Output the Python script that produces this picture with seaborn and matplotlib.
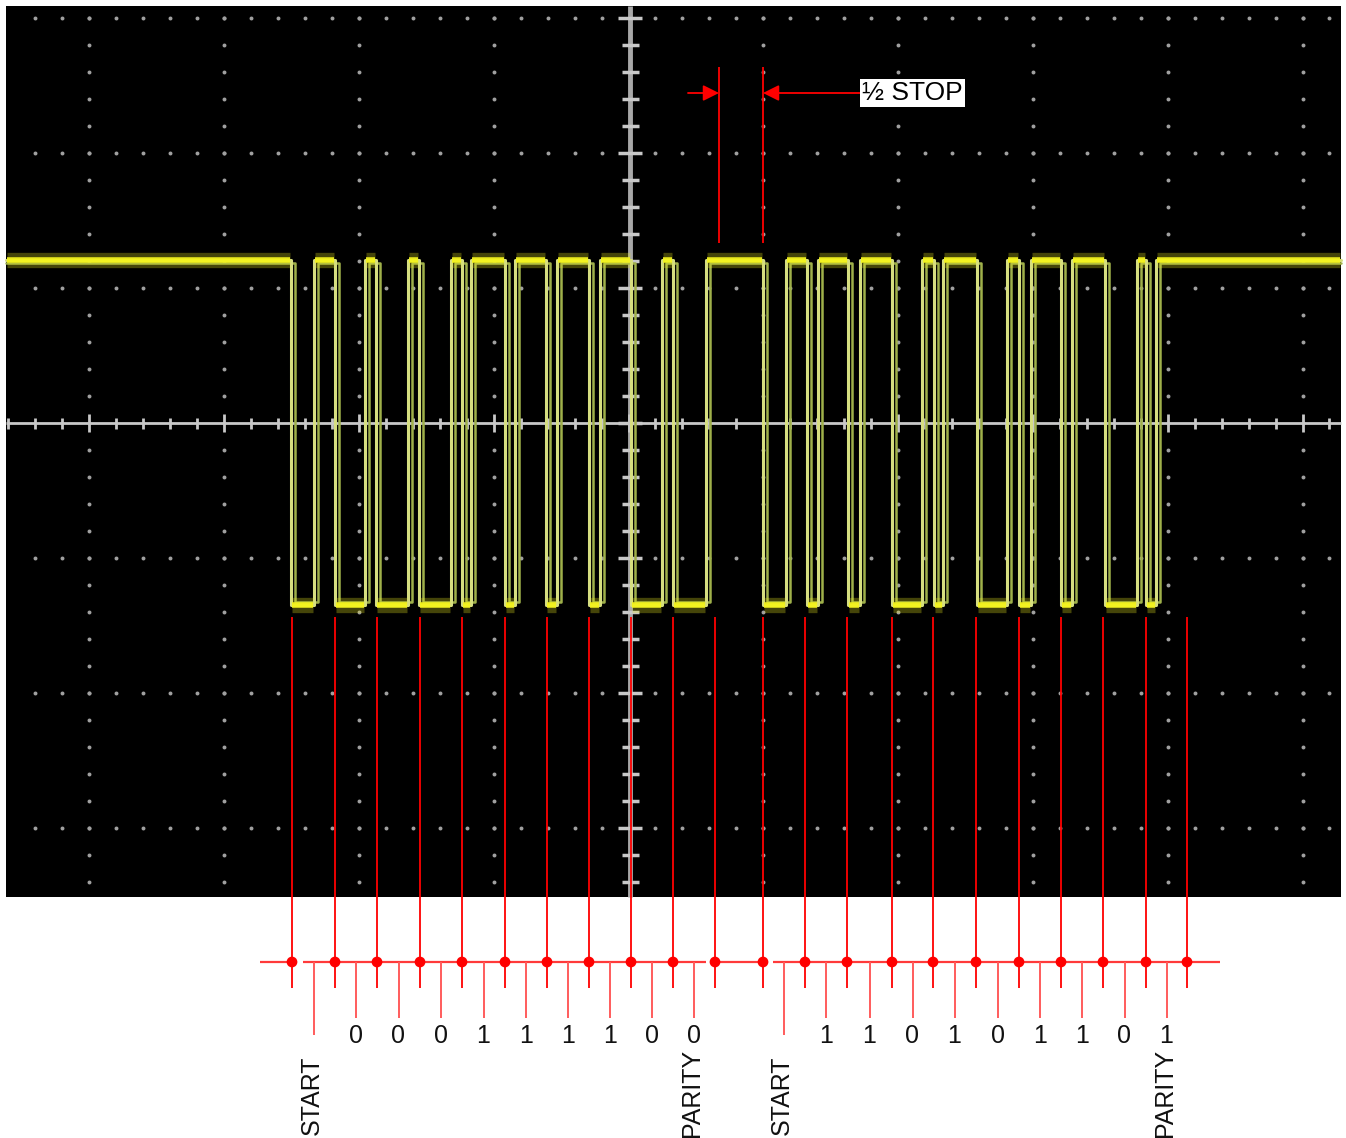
import numpy as np
import pandas as pd
import matplotlib.pyplot as plt
import seaborn as sns
from matplotlib.patches import Rectangle

# ================= DATA =================
# trace edges (horizontal screen position), idle level is high, first edge falls
edge_times = [291, 314, 335, 365, 376, 408, 419, 451, 462, 471, 505, 515, 546, 557,
              589, 600, 631, 662, 673, 706, 763, 786, 807, 818, 848, 860, 892, 922,
              934, 943, 977, 1007, 1019, 1031, 1061, 1072, 1105, 1137, 1146, 1156]
level_high = 260
level_low = 605

# bit cell boundaries of the two frames (red dots)
frame1_bounds = [292, 335, 377, 420, 462, 505, 547, 589, 631, 673, 715]
frame2_bounds = [763, 805, 847, 892, 933, 976, 1019, 1061, 1103, 1146, 1187]
frame1_bits = ["0", "0", "0", "1", "1", "1", "1", "0", "0"]
frame2_bits = ["1", "1", "0", "1", "0", "1", "1", "0", "1"]
frame_labels = ["START", "PARITY"]

half_stop = [719, 763]
half_stop_label = "½ STOP"

# ================= LAYOUT =================
W, H = 1346, 1138
SCR_L, SCR_T, SCR_R, SCR_B = 6, 6, 1341, 897
X0, Y0 = 628.5, 423
DIV_X, DIV_Y = 134.8, 135.0
BASE_Y = 962
RED = "#ff0000"
LIGHT_RED = "#ff5c5c"
TXT = 18

sns.set_theme(style="white")
plt.rcParams["font.family"] = ["Liberation Sans", "DejaVu Sans"]

fig = plt.figure(figsize=(W / 100, H / 100), dpi=100)
fig.patch.set_facecolor("white")
ax = fig.add_axes([0, 0, 1, 1])
ax.set_xlim(0, W)
ax.set_ylim(H, 0)
ax.axis("off")

# ================= SCOPE SCREEN =================
ax.add_patch(Rectangle((SCR_L, SCR_T), SCR_R - SCR_L, SCR_B - SCR_T,
                       facecolor="black", edgecolor="none", zorder=0))

# dotted graticule
gx, gy = [], []
for k in range(-4, 6):
    if k == 0:
        continue
    cx = X0 + k * DIV_X
    for j in range(-20, 20):
        y = Y0 + j * DIV_Y / 5
        if SCR_T + 4 < y < SCR_B - 4:
            gx.append(cx)
            gy.append(y)
for k in range(-3, 4):
    if k == 0:
        continue
    cy = Y0 + k * DIV_Y
    for j in range(-30, 30):
        x = X0 + j * DIV_X / 5
        if SCR_L + 4 < x < SCR_R - 4:
            gx.append(x)
            gy.append(cy)
ax.scatter(gx, gy, s=8, color="#a0a0a0", linewidths=0, zorder=1)

# centre axes with ticks
ax.hlines(Y0, SCR_L, SCR_R, color="#c8c8c8", lw=2, zorder=2)
ax.vlines(X0 + 1.5, SCR_T, SCR_B, color="#a8a8a8", lw=3.5, zorder=2)
for j in range(-30, 30):
    x = X0 + j * DIV_X / 5
    if SCR_L < x < SCR_R:
        hl = 9 if j % 5 == 0 else 5.5
        ax.vlines(x, Y0 - hl, Y0 + hl, color="#c8c8c8", lw=2, zorder=2)
for j in range(-20, 20):
    y = Y0 + j * DIV_Y / 5
    if SCR_T < y < SCR_B:
        hl = 12 if j % 5 == 0 else 8.5
        ax.hlines(y, X0 + 1.5 - hl, X0 + 1.5 + hl, color="#c8c8c8", lw=2.5, zorder=2)

# ================= TRACE =================
def step_path(edges, shift, hi, lo):
    xs, ys = [SCR_L], [hi]
    level = hi
    for e in edges:
        nxt = lo if level == hi else hi
        xs += [e + shift, e + shift]
        ys += [level, nxt]
        level = nxt
    xs.append(SCR_R)
    ys.append(level)
    return pd.DataFrame({"t": xs, "v": ys})

ghost = step_path(edge_times, 4, level_high + 3, level_low - 3)
trace = step_path(edge_times, 0, level_high, level_low)
sns.lineplot(data=ghost, x="t", y="v", sort=False, estimator=None, ax=ax,
             color="#9fb04a", lw=1.8, zorder=3)
sns.lineplot(data=trace, x="t", y="v", sort=False, estimator=None, ax=ax,
             color="#d6de80", lw=2.2, zorder=3)

# fuzzy flat parts
pts = trace.values
for (x1, y1), (x2, y2) in zip(pts[:-1], pts[1:]):
    if y1 == y2 and x2 > x1:
        ax.hlines(y1, x1 + 1, x2 - 1, color="#e8e820", lw=11, alpha=0.3, zorder=3)
        ax.hlines(y1, x1 + 1, x2 - 1, color="#f4f41e", lw=4, alpha=0.95, zorder=3)
ax.set_xlabel("")
ax.set_ylabel("")

# ================= BIT MARKERS =================
for xa, xb in [(260, 297), (303, 706), (710, 767), (773, 1220)]:
    ax.hlines(BASE_Y, xa, xb, color="#ff3a3a", lw=1.6, zorder=4)
for bounds, bits in [(frame1_bounds, frame1_bits), (frame2_bounds, frame2_bits)]:
    b = np.array(bounds, dtype=float)
    mids = (b[:-1] + b[1:]) / 2
    ax.vlines(b, 617, 988, color=RED, lw=1.3, zorder=4)
    ax.vlines(mids[1:], BASE_Y, 1018, color=LIGHT_RED, lw=1.4, zorder=4)
    ax.vlines(mids[0], BASE_Y, 1035, color=LIGHT_RED, lw=1.4, zorder=4)
    sns.scatterplot(x=b, y=[BASE_Y] * len(b), s=60, color=RED,
                    edgecolor="none", ax=ax, zorder=5)
    for m, bit in zip(mids[1:], bits):
        ax.text(m, 1043, bit, ha="center", va="baseline", fontsize=TXT,
                color="#111111", zorder=6)
    ax.text(mids[0] - 2, 1135, frame_labels[0], rotation=90, ha="center",
            va="bottom", fontsize=TXT, color="#111111", zorder=6)
    ax.text(mids[-1] - 2, 1137, frame_labels[1], rotation=90, ha="center",
            va="bottom", fontsize=TXT, color="#111111", zorder=6)

# ================= HALF STOP =================
ax.vlines(half_stop, 67, 243, color=RED, lw=1.3, zorder=4)
ax.annotate("", xy=(half_stop[0], 93), xytext=(688, 93),
            arrowprops=dict(arrowstyle="-|>", color=RED, lw=1.3,
                            mutation_scale=24, shrinkA=0, shrinkB=0), zorder=5)
ax.annotate("", xy=(half_stop[1], 93), xytext=(861, 93),
            arrowprops=dict(arrowstyle="-|>", color=RED, lw=1.3,
                            mutation_scale=24, shrinkA=0, shrinkB=0), zorder=5)
ax.text(862, 93, half_stop_label, ha="left", va="center", fontsize=19,
        color="black", zorder=6,
        bbox=dict(facecolor="white", edgecolor="none", pad=1.5))

fig.savefig("out.png", dpi=100, facecolor="white")
